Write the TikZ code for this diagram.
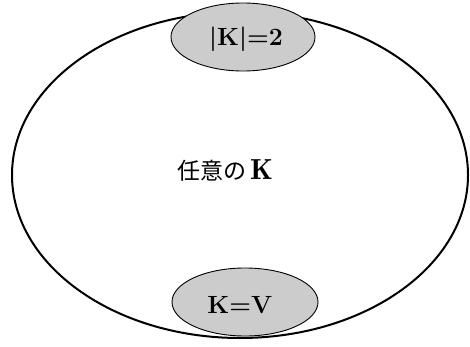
\documentclass[tikz,border=0pt]{standalone}
\usepackage{fontspec}
\newfontfamily\jpfont{Noto Sans CJK JP}
\usetikzlibrary{shapes.geometric}
\begin{document}
\begin{tikzpicture}[x=1pt,y=-1pt,
  big/.style={draw=black,line width=2pt,ellipse,inner sep=0pt},
  setblob/.style={draw=black,line width=0.9pt,fill=gray!40,ellipse,inner sep=0pt},
  lbl/.style={font=\fontsize{27}{30}\selectfont\boldmath}]
\useasboundingbox (0,0) rectangle (470,347);
\node[big,minimum width=456pt,minimum height=326pt] (all) at (240,175) {};
\node[setblob,minimum width=144pt,minimum height=68pt] (top) at (243,37) {};
\node[lbl] (toplbl) at (246,39) {$|\mathbf{K}|{=}\mathbf{2}$};
\node[setblob,minimum width=146pt,minimum height=68pt] (bot) at (245,302) {};
\node[lbl] (botlbl) at (240,305) {$\mathbf{K}{=}\mathbf{V}$};
\node[font=\fontsize{23}{28}\selectfont] (any) at (225,170) {{\jpfont 任意の}\,{\fontsize{29}{30}\selectfont$\mathbf{K}$}};
\end{tikzpicture}
\end{document}
